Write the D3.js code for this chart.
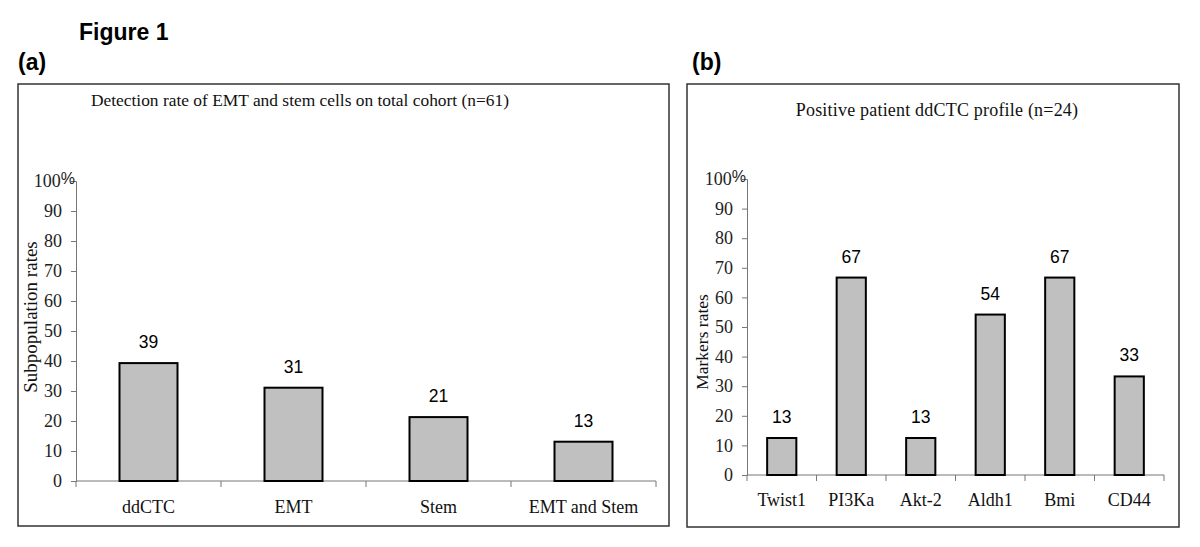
<!DOCTYPE html>
<html>
<head>
<meta charset="utf-8">
<script src="https://cdn.jsdelivr.net/npm/d3@7"></script>
<style>
  body { margin: 0; background: #fff; }
  svg { display: block; }
</style>
</head>
<body>
<div id="container"></div>
<script>
const width = 1200;
const height = 547;

// DATA
const cohortCategories = ["ddCTC", "EMT", "Stem", "EMT and Stem"];
const cohortValues = [39.3, 31.1, 21.3, 13.1];
const cohortLabels = ["39", "31", "21", "13"];

const markerCategories = ["Twist1", "PI3Ka", "Akt-2", "Aldh1", "Bmi", "CD44"];
const markerValues = [12.5, 66.7, 12.5, 54.2, 66.7, 33.3];
const markerLabels = ["13", "67", "13", "54", "67", "33"];

const yTicks = [0, 10, 20, 30, 40, 50, 60, 70, 80, 90, 100];

const serif = "'Liberation Serif', 'Times New Roman', serif";
const sans = "'Liberation Sans', Arial, sans-serif";

const svg = d3.select("div#container").append("svg")
    .attr("width", width)
    .attr("height", height);

// HEADINGS
svg.append("text")
    .attr("x", 79).attr("y", 40)
    .style("font-family", sans).style("font-weight", "bold").style("font-size", "23px")
    .text("Figure 1");

function drawPanel(p) {
    // letter + frame
    svg.append("text")
        .attr("x", p.letterX).attr("y", 70)
        .style("font-family", sans).style("font-weight", "bold").style("font-size", "23px")
        .text(p.letter);

    svg.append("rect")
        .attr("x", p.box[0]).attr("y", p.box[1])
        .attr("width", p.box[2]).attr("height", p.box[3])
        .attr("fill", "none").attr("stroke", "#333").attr("stroke-width", 1.5);

    svg.append("text")
        .attr("x", p.titleX).attr("y", p.titleY)
        .attr("text-anchor", "middle")
        .style("font-family", serif).style("font-size", p.titleSize).attr("fill", "#111")
        .style("letter-spacing", p.titleSpacing)
        .text(p.title);

// SCALES
    const x = d3.scaleBand().domain(p.categories)
        .range([p.x0, p.x1]).paddingInner(p.pad).paddingOuter(p.pad / 2);
    const y = d3.scaleLinear().domain([0, 100]).range([p.y0, p.y100]);

// AXES
    const yaxis = d3.axisLeft(y).tickValues(yTicks).tickSize(5)
        .tickFormat(d => d === 100 ? "" : d);
    const gy = svg.append("g")
        .attr("transform", "translate(" + p.x0 + ",0)")
        .call(yaxis);
    gy.selectAll("path, line").attr("stroke", "#777");
    gy.selectAll("text")
        .style("font-family", serif).style("font-size", "18px").attr("fill", "#222")
        .attr("x", -14);

    // "100%" label
    const top = gy.append("text")
        .attr("x", -1).attr("y", y(100) + 6)
        .attr("text-anchor", "end")
        .style("font-family", serif).style("font-size", "18px").attr("fill", "#222");
    top.append("tspan").text("100");
    top.append("tspan").attr("dy", -3)
        .style("font-family", sans).style("font-size", "16px").text("%");

    // x axis with boundary ticks between categories
    const gx = svg.append("g").attr("transform", "translate(0," + p.y0 + ")");
    gx.append("line")
        .attr("x1", p.x0).attr("x2", p.x1)
        .attr("stroke", "#777");
    const step = (p.x1 - p.x0) / p.categories.length;
    gx.selectAll(".bt")
        .data(d3.range(p.categories.length + 1))
        .enter().append("line")
        .attr("x1", i => p.x0 + i * step).attr("x2", i => p.x0 + i * step)
        .attr("y1", 0).attr("y2", 6)
        .attr("stroke", "#777");
    gx.selectAll(".cl")
        .data(p.categories)
        .enter().append("text")
        .attr("x", d => x(d) + x.bandwidth() / 2)
        .attr("y", p.labelY - p.y0)
        .attr("text-anchor", "middle")
        .style("font-family", serif).style("font-size", "18px").attr("fill", "#111")
        .text(d => d);

    // axis title
    svg.append("text")
        .attr("transform", "translate(" + p.axisTitleX + "," + p.axisTitleY + ") rotate(-90)")
        .attr("text-anchor", "middle")
        .style("font-family", serif).style("font-size", p.axisTitleSize).attr("fill", "#111")
        .text(p.axisTitle);

// BARS
    svg.selectAll(null)
        .data(p.values)
        .enter().append("rect")
        .attr("x", (d, i) => x(p.categories[i]))
        .attr("y", d => y(d))
        .attr("width", x.bandwidth())
        .attr("height", d => p.y0 - y(d))
        .attr("fill", "#c0c0c0")
        .attr("stroke", "#000")
        .attr("stroke-width", 2);

    svg.selectAll(null)
        .data(p.values)
        .enter().append("text")
        .attr("x", (d, i) => x(p.categories[i]) + x.bandwidth() / 2)
        .attr("y", d => y(d) - 15)
        .attr("text-anchor", "middle")
        .style("font-family", sans).style("font-size", "17.5px").attr("fill", "#000")
        .text((d, i) => p.labels[i]);
}

drawPanel({
    letter: "(a)", letterX: 18,
    box: [18, 84, 651, 442],
    title: "Detection rate of EMT and stem cells on total cohort (n=61)",
    titleX: 300, titleY: 106, titleSize: "17.4px", titleSpacing: "0px",
    categories: cohortCategories, values: cohortValues, labels: cohortLabels,
    x0: 76, x1: 656, pad: 0.6,
    y0: 481, y100: 181,
    labelY: 513,
    axisTitle: "Subpopulation rates", axisTitleX: 37, axisTitleY: 317, axisTitleSize: "19px"
});

drawPanel({
    letter: "(b)", letterX: 692,
    box: [687, 84, 492, 443],
    title: "Positive patient ddCTC profile (n=24)",
    titleX: 937, titleY: 116, titleSize: "18px", titleSpacing: "0.2px",
    categories: markerCategories, values: markerValues, labels: markerLabels,
    x0: 747, x1: 1164, pad: 0.58,
    y0: 475, y100: 179,
    labelY: 506,
    axisTitle: "Markers rates", axisTitleX: 708, axisTitleY: 342, axisTitleSize: "17.5px"
});
</script>
</body>
</html>
